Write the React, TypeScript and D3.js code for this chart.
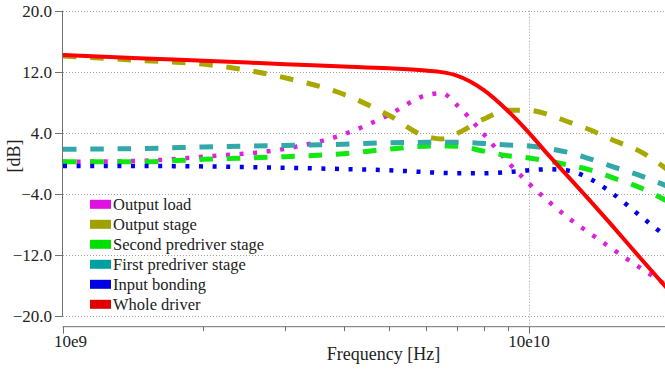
import { useEffect, useRef } from "react";
import * as d3 from "d3";

// sample frequencies (Hz), shared by all series
const freqs = [
  1e9, 1.5e9, 2e9, 3e9, 4e9, 5e9, 6e9, 6.5e9, 7e9, 8e9, 9e9,
  1e10, 1.1e10, 1.2e10, 1.35e10, 1.5e10, 1.75e10, 2e10,
];

// gain in dB
const outputLoad = [0.2, 0.35, 0.88, 1.92, 3.8, 6.35, 8.9, 9.2, 7.65, 3.8, 0.2, -2.65, -4.95, -6.9, -9.15, -11.1, -13.87, -16.2];
const outputStage = [14.05, 13.45, 13.0, 11.2, 9.05, 6.3, 3.55, 3.2, 3.9, 5.8, 6.95, 6.95, 6.4, 5.55, 4.4, 3.15, 1.4, -1.0];
const secondPredriver = [0.2, 0.22, 0.53, 0.88, 1.27, 1.86, 2.25, 2.27, 2.25, 1.6, 1.0, 0.7, 0.3, -0.15, -0.85, -1.8, -3.3, -5.1];
const firstPredriver = [1.85, 1.95, 2.15, 2.35, 2.5, 2.7, 2.75, 2.75, 2.75, 2.6, 2.4, 2.27, 1.95, 1.5, 0.6, -0.36, -1.7, -3.1];
const inputBonding = [-0.35, -0.35, -0.4, -0.58, -0.75, -0.9, -1.15, -1.25, -1.3, -1.3, -1.15, -0.9, -0.78, -0.9, -2.0, -3.8, -7.1, -9.9];
const wholeDriver = [14.2, 13.75, 13.45, 13.0, 12.7, 12.45, 12.15, 11.95, 11.5, 9.6, 6.9, 4.0, 1.1, -1.4, -4.85, -8.0, -12.7, -16.7];

const seriesNames = ["Output load", "Output stage", "Second predriver stage", "First predriver stage", "Input bonding", "Whole driver"];
const seriesValues = [outputLoad, outputStage, secondPredriver, firstPredriver, inputBonding, wholeDriver];
const lineColors = ["#dd22dd", "#a8a800", "#11e811", "#33a8a8", "#0000ee", "#ff0000"];
const swatchColors = ["#e010e0", "#a0a000", "#00e000", "#00a0a0", "#0000e0", "#e00000"];
const lineStyles = ["dot", "dash", "dash", "dash", "dot", "solid"];

const yTicks = [20, 12, 4, -4, -12, -20];
const xMinorTicks = [2e9, 3e9, 4e9, 5e9, 6e9, 7e9, 8e9, 9e9];
const xMajorTicks = [1e9, 1e10];
const xMajorLabels = ["10e9", "10e10"];

const FONT = "Liberation Serif, DejaVu Serif, serif";

export default function App() {
  const ref = useRef<SVGSVGElement>(null);

  useEffect(() => {
    if (!ref.current) return;
    const svg = d3.select(ref.current);
    svg.selectAll("*").remove();

    const width = 665;
    const height = 374;

    const x = d3.scaleLog().domain([1e9, 2e10]).range([63, 669.3]);
    const y = d3.scaleLinear().domain([-20, 20]).range([316, 10.7]);
    const xAxisY = 326.7;

    svg.attr("width", width).attr("height", height);

    // grid
    const grid = svg.append("g").attr("stroke", "#a0a0a0").attr("stroke-width", 1).attr("stroke-dasharray", "1,2");
    grid.selectAll("line.h")
      .data(yTicks)
      .join("line")
      .attr("class", "h")
      .attr("x1", 63)
      .attr("x2", width)
      .attr("y1", (d) => Math.round(y(d)) + 0.5)
      .attr("y2", (d) => Math.round(y(d)) + 0.5);
    grid.append("line")
      .attr("x1", Math.round(x(1e10)) + 0.5)
      .attr("x2", Math.round(x(1e10)) + 0.5)
      .attr("y1", y(20))
      .attr("y2", xAxisY);

    // y axis
    const yAxis = svg.append("g").attr("stroke", "#707070").attr("stroke-width", 1);
    yAxis.append("line").attr("x1", 62.5).attr("x2", 62.5).attr("y1", y(20)).attr("y2", y(-20) + 0.5);
    yAxis.selectAll("line.t")
      .data(yTicks)
      .join("line")
      .attr("class", "t")
      .attr("x1", 55)
      .attr("x2", 62.5)
      .attr("y1", (d) => Math.round(y(d)) + 0.5)
      .attr("y2", (d) => Math.round(y(d)) + 0.5);

    const texts = svg.append("g").attr("font-family", FONT).attr("fill", "#222");
    texts.append("g")
      .selectAll("text")
      .data(yTicks)
      .join("text")
      .attr("x", 52)
      .attr("y", (d) => y(d) + 6)
      .attr("text-anchor", "end")
      .attr("font-size", 17)
      .text((d) => d3.format(".1f")(d));
    texts.append("text")
      .attr("transform", "translate(20,156) rotate(-90)")
      .attr("text-anchor", "middle")
      .attr("font-size", 18)
      .text("[dB]");

    // x axis
    const xAxis = svg.append("g").attr("stroke", "#707070").attr("stroke-width", 1);
    xAxis.append("line").attr("x1", 62.5).attr("x2", width).attr("y1", xAxisY).attr("y2", xAxisY);
    xAxis.selectAll("line.minor")
      .data(xMinorTicks)
      .join("line")
      .attr("class", "minor")
      .attr("x1", (d) => Math.round(x(d)) + 0.5)
      .attr("x2", (d) => Math.round(x(d)) + 0.5)
      .attr("y1", xAxisY)
      .attr("y2", xAxisY + 4.5);
    xAxis.selectAll("line.major")
      .data(xMajorTicks)
      .join("line")
      .attr("class", "major")
      .attr("x1", (d) => Math.round(x(d)) + 0.5)
      .attr("x2", (d) => Math.round(x(d)) + 0.5)
      .attr("y1", xAxisY)
      .attr("y2", xAxisY + 7);
    texts.append("g")
      .selectAll("text")
      .data(xMajorTicks)
      .join("text")
      .attr("x", (d, i) => (i === 0 ? x(d) - 9 : x(d)))
      .attr("y", 346.5)
      .attr("text-anchor", (d, i) => (i === 0 ? "start" : "middle"))
      .attr("font-size", 17)
      .text((d, i) => xMajorLabels[i]);
    texts.append("text")
      .attr("x", 383.5)
      .attr("y", 360)
      .attr("text-anchor", "middle")
      .attr("font-size", 18)
      .text("Frequency [Hz]");

    // curves
    const line = d3.line<number>()
      .x((d, i) => x(freqs[i]))
      .y((d) => y(d))
      .curve(d3.curveMonotoneX);

    svg.append("g")
      .attr("fill", "none")
      .selectAll("path")
      .data(seriesValues)
      .join("path")
      .attr("d", (d) => line(d) || "")
      .attr("stroke", (d, i) => lineColors[i])
      .attr("stroke-width", (d, i) => (lineStyles[i] === "solid" ? 4 : lineStyles[i] === "dash" ? 5 : 4.5))
      .attr("stroke-dasharray", (d, i) =>
        lineStyles[i] === "dash" ? "13.5,13.8" : lineStyles[i] === "dot" ? "4,9.6" : null);

    // legend
    const legend = svg.append("g")
      .attr("font-family", FONT)
      .selectAll("g")
      .data(seriesNames)
      .join("g")
      .attr("transform", (d, i) => `translate(90,${204.3 + i * 20})`);
    legend.append("rect")
      .attr("x", 0)
      .attr("y", -4.5)
      .attr("width", 21)
      .attr("height", 9)
      .attr("fill", (d, i) => swatchColors[i]);
    legend.append("text")
      .attr("x", 23)
      .attr("y", 5.5)
      .attr("font-size", 16.5)
      .attr("fill", "#222")
      .text((d) => d);
  }, []);

  return <svg ref={ref} style={{ position: "absolute", left: 0, top: 0, background: "#fff" }} />;
}
